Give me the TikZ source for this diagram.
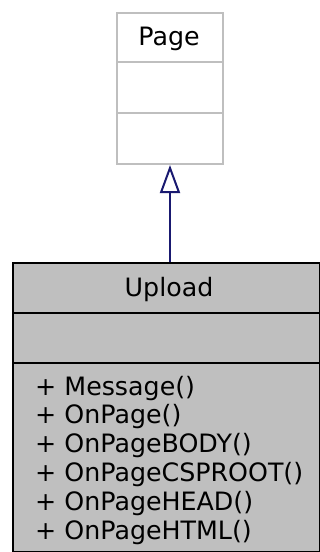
\documentclass[tikz,border=0pt]{standalone}
\usepackage{fontspec}
\setmainfont{DejaVu Sans}
\usetikzlibrary{arrows.meta}
\definecolor{boxgray}{HTML}{BFBFBF}
\definecolor{edgeblue}{HTML}{191970}
\tikzset{
  umltext/.style={font=\fontsize{25.3}{28.8}\selectfont, inner sep=0pt},
  pagebox/.style={draw=boxgray, fill=white, line width=2pt},
  uploadbox/.style={draw=black, fill=boxgray, line width=2pt},
  inherit/.style={draw=edgeblue, line width=2pt, -{Triangle[open, length=28pt, width=20pt, fill=white]}}
}
\begin{document}
\begin{tikzpicture}[x=1pt,y=-1pt]
\useasboundingbox (0,0) rectangle (320,552);
% Page class
\node[pagebox, minimum width=106pt, minimum height=151pt, inner sep=0pt, anchor=north west] (pagebox) at (116,12) {};
\draw[draw=boxgray, line width=2pt] (116,62) -- (222,62);
\draw[draw=boxgray, line width=2pt] (116,113) -- (222,113);
\node[umltext, anchor=base] (pagename) at (169,45) {Page};
% Upload class
\node[uploadbox, minimum width=307pt, minimum height=289pt, inner sep=0pt, anchor=north west] (uploadbox) at (12,262) {};
\draw[line width=2pt] (12,313) -- (319,313);
\draw[line width=2pt] (12,363) -- (319,363);
\node[umltext, anchor=base] (uploadname) at (169,296) {Upload};
\node[umltext, anchor=base west] (m1) at (35,395) {+ Message()};
\node[umltext, anchor=base west] (m2) at (35,423.8) {+ OnPage()};
\node[umltext, anchor=base west] (m3) at (35,452.6) {+ OnPageBODY()};
\node[umltext, anchor=base west] (m4) at (35,481.4) {+ OnPageCSPROOT()};
\node[umltext, anchor=base west] (m5) at (35,510.2) {+ OnPageHEAD()};
\node[umltext, anchor=base west] (m6) at (35,539) {+ OnPageHTML()};
% inheritance
\draw[inherit] (uploadbox.north -| 170,0) -- (pagebox.south -| 170,0);
\end{tikzpicture}
\end{document}
